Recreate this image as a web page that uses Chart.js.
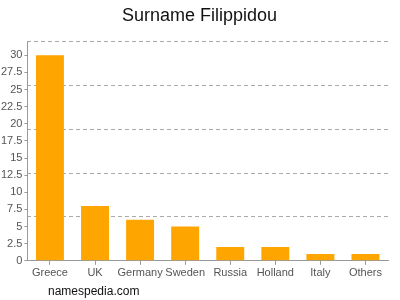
<!DOCTYPE html>
<html>
<head>
<meta charset="utf-8">
<script src="https://cdn.jsdelivr.net/npm/chart.js@4"></script>
<style>
  html, body { margin: 0; padding: 0; background: #fff; }
  #wrap { position: relative; width: 400px; height: 300px; }
  #credit { position: absolute; left: 48px; top: 284px; font: 12px "Liberation Sans", Arial, sans-serif; color: #111; }
</style>
</head>
<body>
<div id="wrap">
  <canvas id="c" width="400" height="300"></canvas>
  <div id="credit">namespedia.com</div>
</div>
<script>
const chartTitle = "Surname Filippidou";
const categories = ["Greece", "UK", "Germany", "Sweden", "Russia", "Holland", "Italy", "Others"];
const counts = [30, 8, 6, 5, 2, 2, 1, 1];
const yMax = 32;
const yStep = 2.5;
const yTickLimit = 30;
const gridDivisions = 5;

const font = { family: "'Liberation Sans', Arial, sans-serif", size: 11 };

new Chart(document.getElementById("c"), {
  type: "bar",
  data: {
    labels: categories,
    datasets: [{
      data: counts,
      backgroundColor: "#FFA500",
      borderWidth: 0,
      categoryPercentage: 0.62,
      barPercentage: 1.0
    }]
  },
  options: {
    responsive: false,
    animation: false,
    layout: { padding: { left: -1, right: 0, top: 0, bottom: 18 } },
    plugins: {
      legend: { display: false },
      tooltip: { enabled: false },
      title: {
        display: true,
        text: chartTitle,
        color: "#111",
        font: { family: "'Liberation Sans', Arial, sans-serif", size: 18, weight: "normal" },
        padding: { top: 5, bottom: 15 }
      }
    },
    scales: {
      x: {
        grid: { display: true, drawOnChartArea: false, offset: false, color: "#999", tickLength: 4 },
        border: { display: true, color: "#999" },
        ticks: { color: "#555", font: font, padding: 2, maxRotation: 0, autoSkip: false }
      },
      y: {
        min: 0,
        max: yMax,
        grid: { display: true, drawOnChartArea: false, color: "#999", tickLength: 3 },
        border: { display: true, color: "#999" },
        ticks: { stepSize: yStep, color: "#555", font: font, padding: 2 },
        afterBuildTicks: (axis) => { axis.ticks = axis.ticks.filter(t => t.value <= yTickLimit); }
      },
      y2: {
        position: "left",
        min: 0,
        max: gridDivisions,
        display: true,
        ticks: { display: false, stepSize: 1 },
        grid: { color: "#aaa", lineWidth: 1, tickLength: 0, drawTicks: false },
        border: { display: false, dash: [4, 3] }
      },
      yRight: {
        position: "right",
        min: 0,
        max: gridDivisions,
        display: true,
        ticks: { display: false },
        grid: { display: false, drawTicks: false },
        border: { display: false },
        afterFit: (axis) => { axis.width = 12; }
      }
    }
  }
});
</script>
</body>
</html>
